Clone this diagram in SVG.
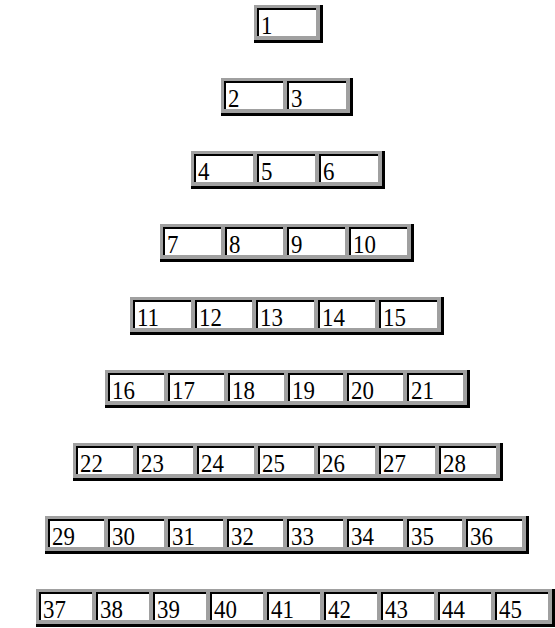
<svg xmlns="http://www.w3.org/2000/svg" width="555" height="628" viewBox="0 0 555 628">
<style>
.g{fill:#a0a0a0}
.k{fill:#000}
.w{fill:#fff}
.t{font-family:"Liberation Serif","Times New Roman",serif;font-size:26px;fill:#000}
</style>
<rect width="555" height="628" fill="#fff"/>
<g id="row1">
<rect class="g" x="254" y="5" width="69" height="38"/><rect class="k" x="320" y="5" width="3" height="38"/><rect class="k" x="254" y="40" width="69" height="3"/>
<g id="n1"><rect class="k" x="257" y="8" width="59" height="28"/><rect class="w" x="259" y="10" width="57" height="26"/><text class="t" transform="translate(261,34) scale(0.88,1)">1</text></g>
</g>
<g id="row2">
<rect class="g" x="221" y="78" width="132" height="38"/><rect class="k" x="350" y="78" width="3" height="38"/><rect class="k" x="221" y="113" width="132" height="3"/>
<g id="n2"><rect class="k" x="224" y="81" width="59" height="28"/><rect class="w" x="226" y="83" width="57" height="26"/><text class="t" transform="translate(228,107) scale(0.88,1)">2</text></g>
<g id="n3"><rect class="k" x="287" y="81" width="59" height="28"/><rect class="w" x="289" y="83" width="57" height="26"/><text class="t" transform="translate(291,107) scale(0.88,1)">3</text></g>
</g>
<g id="row3">
<rect class="g" x="191" y="151" width="194" height="38"/><rect class="k" x="382" y="151" width="3" height="38"/><rect class="k" x="191" y="186" width="194" height="3"/>
<g id="n4"><rect class="k" x="194" y="154" width="59" height="28"/><rect class="w" x="196" y="156" width="57" height="26"/><text class="t" transform="translate(198,180) scale(0.88,1)">4</text></g>
<g id="n5"><rect class="k" x="257" y="154" width="58" height="28"/><rect class="w" x="259" y="156" width="56" height="26"/><text class="t" transform="translate(261,180) scale(0.88,1)">5</text></g>
<g id="n6"><rect class="k" x="319" y="154" width="59" height="28"/><rect class="w" x="321" y="156" width="57" height="26"/><text class="t" transform="translate(323,180) scale(0.88,1)">6</text></g>
</g>
<g id="row4">
<rect class="g" x="160" y="224" width="254" height="38"/><rect class="k" x="411" y="224" width="3" height="38"/><rect class="k" x="160" y="259" width="254" height="3"/>
<g id="n7"><rect class="k" x="163" y="227" width="58" height="28"/><rect class="w" x="165" y="229" width="56" height="26"/><text class="t" transform="translate(167,253) scale(0.88,1)">7</text></g>
<g id="n8"><rect class="k" x="225" y="227" width="58" height="28"/><rect class="w" x="227" y="229" width="56" height="26"/><text class="t" transform="translate(229,253) scale(0.88,1)">8</text></g>
<g id="n9"><rect class="k" x="287" y="227" width="58" height="28"/><rect class="w" x="289" y="229" width="56" height="26"/><text class="t" transform="translate(291,253) scale(0.88,1)">9</text></g>
<g id="n10"><rect class="k" x="349" y="227" width="58" height="28"/><rect class="w" x="351" y="229" width="56" height="26"/><text class="t" transform="translate(353,253) scale(0.88,1)">10</text></g>
</g>
<g id="row5">
<rect class="g" x="130" y="297" width="314" height="38"/><rect class="k" x="441" y="297" width="3" height="38"/><rect class="k" x="130" y="332" width="314" height="3"/>
<g id="n11"><rect class="k" x="133" y="300" width="58" height="28"/><rect class="w" x="135" y="302" width="56" height="26"/><text class="t" transform="translate(137,326) scale(0.88,1)">11</text></g>
<g id="n12"><rect class="k" x="195" y="300" width="57" height="28"/><rect class="w" x="197" y="302" width="55" height="26"/><text class="t" transform="translate(199,326) scale(0.88,1)">12</text></g>
<g id="n13"><rect class="k" x="256" y="300" width="58" height="28"/><rect class="w" x="258" y="302" width="56" height="26"/><text class="t" transform="translate(260,326) scale(0.88,1)">13</text></g>
<g id="n14"><rect class="k" x="318" y="300" width="57" height="28"/><rect class="w" x="320" y="302" width="55" height="26"/><text class="t" transform="translate(322,326) scale(0.88,1)">14</text></g>
<g id="n15"><rect class="k" x="379" y="300" width="58" height="28"/><rect class="w" x="381" y="302" width="56" height="26"/><text class="t" transform="translate(383,326) scale(0.88,1)">15</text></g>
</g>
<g id="row6">
<rect class="g" x="105" y="370" width="365" height="38"/><rect class="k" x="467" y="370" width="3" height="38"/><rect class="k" x="105" y="405" width="365" height="3"/>
<g id="n16"><rect class="k" x="108" y="373" width="56" height="28"/><rect class="w" x="110" y="375" width="54" height="26"/><text class="t" transform="translate(112,399) scale(0.88,1)">16</text></g>
<g id="n17"><rect class="k" x="168" y="373" width="56" height="28"/><rect class="w" x="170" y="375" width="54" height="26"/><text class="t" transform="translate(172,399) scale(0.88,1)">17</text></g>
<g id="n18"><rect class="k" x="228" y="373" width="56" height="28"/><rect class="w" x="230" y="375" width="54" height="26"/><text class="t" transform="translate(232,399) scale(0.88,1)">18</text></g>
<g id="n19"><rect class="k" x="288" y="373" width="55" height="28"/><rect class="w" x="290" y="375" width="53" height="26"/><text class="t" transform="translate(292,399) scale(0.88,1)">19</text></g>
<g id="n20"><rect class="k" x="347" y="373" width="56" height="28"/><rect class="w" x="349" y="375" width="54" height="26"/><text class="t" transform="translate(351,399) scale(0.88,1)">20</text></g>
<g id="n21"><rect class="k" x="407" y="373" width="56" height="28"/><rect class="w" x="409" y="375" width="54" height="26"/><text class="t" transform="translate(411,399) scale(0.88,1)">21</text></g>
</g>
<g id="row7">
<rect class="g" x="73" y="443" width="430" height="38"/><rect class="k" x="500" y="443" width="3" height="38"/><rect class="k" x="73" y="478" width="430" height="3"/>
<g id="n22"><rect class="k" x="76" y="446" width="57" height="28"/><rect class="w" x="78" y="448" width="55" height="26"/><text class="t" transform="translate(80,472) scale(0.88,1)">22</text></g>
<g id="n23"><rect class="k" x="137" y="446" width="56" height="28"/><rect class="w" x="139" y="448" width="54" height="26"/><text class="t" transform="translate(141,472) scale(0.88,1)">23</text></g>
<g id="n24"><rect class="k" x="197" y="446" width="57" height="28"/><rect class="w" x="199" y="448" width="55" height="26"/><text class="t" transform="translate(201,472) scale(0.88,1)">24</text></g>
<g id="n25"><rect class="k" x="258" y="446" width="56" height="28"/><rect class="w" x="260" y="448" width="54" height="26"/><text class="t" transform="translate(262,472) scale(0.88,1)">25</text></g>
<g id="n26"><rect class="k" x="318" y="446" width="57" height="28"/><rect class="w" x="320" y="448" width="55" height="26"/><text class="t" transform="translate(322,472) scale(0.88,1)">26</text></g>
<g id="n27"><rect class="k" x="379" y="446" width="56" height="28"/><rect class="w" x="381" y="448" width="54" height="26"/><text class="t" transform="translate(383,472) scale(0.88,1)">27</text></g>
<g id="n28"><rect class="k" x="439" y="446" width="57" height="28"/><rect class="w" x="441" y="448" width="55" height="26"/><text class="t" transform="translate(443,472) scale(0.88,1)">28</text></g>
</g>
<g id="row8">
<rect class="g" x="45" y="516" width="484" height="38"/><rect class="k" x="526" y="516" width="3" height="38"/><rect class="k" x="45" y="551" width="484" height="3"/>
<g id="n29"><rect class="k" x="48" y="519" width="56" height="28"/><rect class="w" x="50" y="521" width="54" height="26"/><text class="t" transform="translate(52,545) scale(0.88,1)">29</text></g>
<g id="n30"><rect class="k" x="108" y="519" width="56" height="28"/><rect class="w" x="110" y="521" width="54" height="26"/><text class="t" transform="translate(112,545) scale(0.88,1)">30</text></g>
<g id="n31"><rect class="k" x="168" y="519" width="55" height="28"/><rect class="w" x="170" y="521" width="53" height="26"/><text class="t" transform="translate(172,545) scale(0.88,1)">31</text></g>
<g id="n32"><rect class="k" x="227" y="519" width="56" height="28"/><rect class="w" x="229" y="521" width="54" height="26"/><text class="t" transform="translate(231,545) scale(0.88,1)">32</text></g>
<g id="n33"><rect class="k" x="287" y="519" width="56" height="28"/><rect class="w" x="289" y="521" width="54" height="26"/><text class="t" transform="translate(291,545) scale(0.88,1)">33</text></g>
<g id="n34"><rect class="k" x="347" y="519" width="56" height="28"/><rect class="w" x="349" y="521" width="54" height="26"/><text class="t" transform="translate(351,545) scale(0.88,1)">34</text></g>
<g id="n35"><rect class="k" x="407" y="519" width="55" height="28"/><rect class="w" x="409" y="521" width="53" height="26"/><text class="t" transform="translate(411,545) scale(0.88,1)">35</text></g>
<g id="n36"><rect class="k" x="466" y="519" width="56" height="28"/><rect class="w" x="468" y="521" width="54" height="26"/><text class="t" transform="translate(470,545) scale(0.88,1)">36</text></g>
</g>
<g id="row9">
<rect class="g" x="36" y="589" width="519" height="38"/><rect class="k" x="552" y="589" width="3" height="38"/><rect class="k" x="36" y="624" width="519" height="3"/>
<g id="n37"><rect class="k" x="39" y="592" width="53" height="28"/><rect class="w" x="41" y="594" width="51" height="26"/><text class="t" transform="translate(43,618) scale(0.88,1)">37</text></g>
<g id="n38"><rect class="k" x="96" y="592" width="53" height="28"/><rect class="w" x="98" y="594" width="51" height="26"/><text class="t" transform="translate(100,618) scale(0.88,1)">38</text></g>
<g id="n39"><rect class="k" x="153" y="592" width="53" height="28"/><rect class="w" x="155" y="594" width="51" height="26"/><text class="t" transform="translate(157,618) scale(0.88,1)">39</text></g>
<g id="n40"><rect class="k" x="210" y="592" width="53" height="28"/><rect class="w" x="212" y="594" width="51" height="26"/><text class="t" transform="translate(214,618) scale(0.88,1)">40</text></g>
<g id="n41"><rect class="k" x="267" y="592" width="53" height="28"/><rect class="w" x="269" y="594" width="51" height="26"/><text class="t" transform="translate(271,618) scale(0.88,1)">41</text></g>
<g id="n42"><rect class="k" x="324" y="592" width="53" height="28"/><rect class="w" x="326" y="594" width="51" height="26"/><text class="t" transform="translate(328,618) scale(0.88,1)">42</text></g>
<g id="n43"><rect class="k" x="381" y="592" width="53" height="28"/><rect class="w" x="383" y="594" width="51" height="26"/><text class="t" transform="translate(385,618) scale(0.88,1)">43</text></g>
<g id="n44"><rect class="k" x="438" y="592" width="53" height="28"/><rect class="w" x="440" y="594" width="51" height="26"/><text class="t" transform="translate(442,618) scale(0.88,1)">44</text></g>
<g id="n45"><rect class="k" x="495" y="592" width="53" height="28"/><rect class="w" x="497" y="594" width="51" height="26"/><text class="t" transform="translate(499,618) scale(0.88,1)">45</text></g>
</g>
<g id="connectors"/>
</svg>
